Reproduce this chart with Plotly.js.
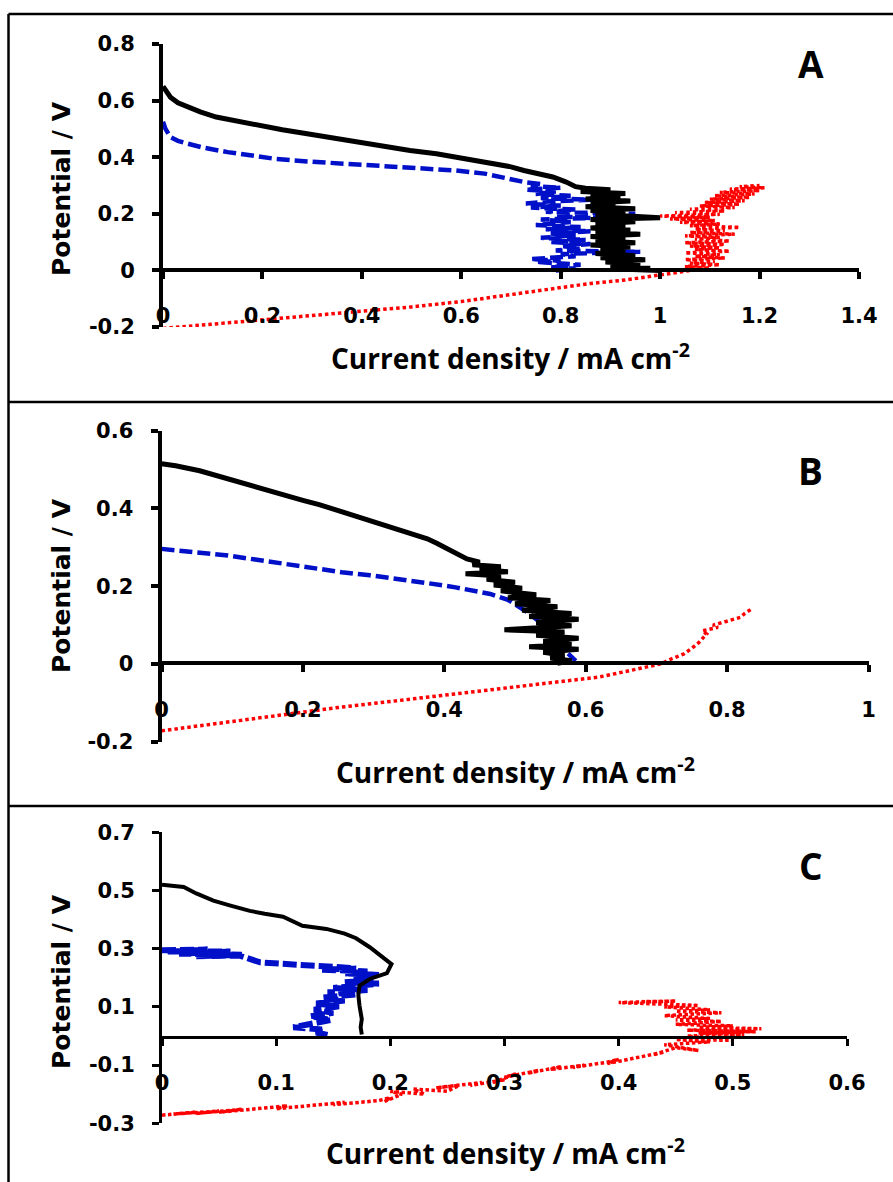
<!DOCTYPE html>
<html>
<head>
<meta charset="utf-8">
<script src="https://cdn.plot.ly/plotly-3.0.1.min.js"></script>
<style>html,body{margin:0;padding:0;background:#fff;}#chart{width:893px;height:1182px;}</style>
</head>
<body>
<div id="chart"></div>
<script>
// ---------- DATA (x: current density mA cm-2, y: potential V) ----------
const panelLabels = ['A', 'B', 'C'];

const xTicksA = [0, 0.2, 0.4, 0.6, 0.8, 1, 1.2, 1.4];
const yTicksA = [-0.2, 0, 0.2, 0.4, 0.6, 0.8];
const xTicksB = [0, 0.2, 0.4, 0.6, 0.8, 1];
const yTicksB = [-0.2, 0, 0.2, 0.4, 0.6];
const xTicksC = [0, 0.1, 0.2, 0.3, 0.4, 0.5, 0.6];
const yTicksC = [-0.3, -0.1, 0.1, 0.3, 0.5, 0.7];

const aBlack = [[0,0.65],[0.005,0.635],[0.015,0.612],[0.03,0.592],[0.05,0.577],[0.075,0.56],[0.107,0.542],[0.15,0.527],[0.187,0.512],[0.24,0.497],[0.29,0.483],[0.35,0.465],[0.405,0.448],[0.45,0.436],[0.497,0.424],[0.55,0.412],[0.589,0.4],[0.63,0.389],[0.669,0.377],[0.7,0.366],[0.726,0.353],[0.76,0.342],[0.784,0.33],[0.81,0.313],[0.83,0.296],
[0.85,0.29],[0.9,0.285],[0.84,0.279],[0.93,0.272],[0.86,0.266],[0.92,0.259],[0.85,0.252],[0.94,0.245],[0.86,0.238],[0.91,0.232],[0.85,0.225],[0.95,0.218],[0.86,0.212],[0.93,0.205],[0.87,0.198],[1.0,0.186],[0.86,0.18],[0.95,0.172],[0.87,0.165],[0.93,0.158],[0.86,0.15],[0.94,0.143],[0.87,0.136],[0.96,0.128],[0.86,0.12],[0.93,0.113],[0.87,0.106],[0.95,0.098],[0.86,0.09],[0.94,0.083],[0.88,0.076],[0.93,0.068],[0.87,0.06],[0.95,0.052],[0.88,0.045],[0.97,0.038],[0.89,0.03],[0.96,0.022],[0.9,0.015],[0.98,0.008],[0.93,0.004],[1.0,0]];

const aBlue = [[0,0.525],[0.005,0.5],[0.015,0.471],[0.03,0.458],[0.049,0.448],[0.08,0.434],[0.13,0.418],[0.175,0.405],[0.222,0.395],[0.29,0.385],[0.36,0.377],[0.43,0.37],[0.497,0.365],[0.55,0.358],[0.589,0.353],[0.647,0.342],[0.692,0.324],[0.727,0.312],
[0.76,0.305],[0.74,0.298],[0.8,0.292],[0.73,0.285],[0.79,0.279],[0.75,0.27],[0.82,0.264],[0.76,0.256],[0.86,0.25],[0.78,0.244],[0.73,0.236],[0.8,0.229],[0.74,0.222],[0.83,0.215],[0.77,0.207],[0.95,0.2],[0.79,0.192],[0.86,0.185],[0.76,0.18],[0.82,0.171],[0.75,0.16],[0.84,0.153],[0.77,0.145],[0.86,0.138],[0.78,0.13],[0.83,0.124],[0.76,0.115],[0.85,0.108],[0.78,0.1],[0.86,0.093],[0.8,0.086],[0.84,0.078],[0.79,0.07],[0.96,0.066],[0.8,0.058],[0.83,0.05],[0.74,0.04],[0.8,0.034],[0.75,0.03],[0.84,0.02],[0.78,0.012],[0.83,0.006],[0.79,0]];

const aRed = [[0,-0.205],[0.1,-0.19],[0.2,-0.176],[0.3,-0.162],[0.4,-0.147],[0.5,-0.129],[0.6,-0.11],[0.7,-0.086],[0.8,-0.06],[0.86,-0.046],[0.93,-0.034],[0.99,-0.018],[1.04,-0.006],[1.07,0.002],
[1.1,0.008],[1.05,0.014],[1.12,0.02],[1.06,0.026],[1.11,0.032],[1.05,0.038],[1.13,0.044],[1.07,0.05],[1.12,0.056],[1.05,0.062],[1.14,0.068],[1.07,0.074],[1.12,0.08],[1.06,0.086],[1.13,0.092],[1.05,0.098],[1.14,0.104],[1.07,0.11],[1.12,0.116],[1.05,0.122],[1.15,0.128],[1.06,0.134],[1.13,0.14],[1.07,0.146],[1.16,0.152],[1.06,0.158],[1.12,0.164],[1.04,0.17],[1.11,0.176],[1.02,0.182],[1.1,0.188],[1.0,0.192],[1.12,0.198],[1.03,0.204],[1.13,0.21],[1.06,0.216],[1.15,0.222],[1.08,0.228],[1.16,0.234],[1.09,0.24],[1.17,0.246],[1.1,0.252],[1.18,0.258],[1.11,0.264],[1.19,0.27],[1.12,0.276],[1.2,0.282],[1.14,0.287],[1.21,0.292],[1.16,0.296],[1.2,0.3]];

const bBlack = [[0,0.515],[0.02,0.51],[0.054,0.497],[0.08,0.483],[0.11,0.467],[0.14,0.451],[0.175,0.434],[0.2,0.421],[0.223,0.41],[0.255,0.392],[0.287,0.373],[0.31,0.361],[0.336,0.347],[0.36,0.332],[0.376,0.322],[0.39,0.31],[0.408,0.292],[0.42,0.281],[0.432,0.27],
[0.45,0.262],[0.44,0.255],[0.48,0.25],[0.45,0.243],[0.49,0.237],[0.43,0.232],[0.48,0.226],[0.46,0.218],[0.5,0.21],[0.47,0.203],[0.51,0.195],[0.48,0.188],[0.53,0.178],[0.49,0.17],[0.55,0.163],[0.5,0.155],[0.56,0.147],[0.51,0.138],[0.58,0.13],[0.52,0.122],[0.59,0.115],[0.53,0.106],[0.58,0.098],[0.485,0.088],[0.57,0.082],[0.53,0.074],[0.59,0.066],[0.54,0.058],[0.58,0.05],[0.52,0.044],[0.59,0.038],[0.54,0.03],[0.57,0.022],[0.55,0.015],[0.58,0.008],[0.56,0.002]];

const bBlue = [[0,0.296],[0.05,0.288],[0.094,0.279],[0.135,0.268],[0.175,0.257],[0.215,0.247],[0.255,0.236],[0.295,0.228],[0.336,0.219],[0.376,0.208],[0.416,0.197],[0.44,0.19],[0.465,0.18],[0.49,0.165],[0.52,0.13],[0.54,0.1],[0.555,0.07],[0.57,0.035],[0.586,0.008]];

const bRed = [[0,-0.172],[0.05,-0.16],[0.1,-0.148],[0.175,-0.129],[0.25,-0.112],[0.336,-0.094],[0.42,-0.076],[0.497,-0.06],[0.56,-0.046],[0.618,-0.034],[0.66,-0.018],[0.682,-0.009],[0.706,0],[0.72,0.012],[0.739,0.026],[0.75,0.04],[0.76,0.055],[0.771,0.077],[0.765,0.085],[0.787,0.094],[0.78,0.1],[0.8,0.11],[0.819,0.12],[0.825,0.13],[0.835,0.142]];

const cBlack = [[0,0.52],[0.01,0.517],[0.019,0.512],[0.03,0.49],[0.045,0.465],[0.06,0.448],[0.077,0.43],[0.09,0.42],[0.106,0.41],[0.123,0.379],[0.144,0.368],[0.16,0.352],[0.17,0.336],[0.182,0.305],[0.192,0.275],[0.201,0.247],[0.197,0.216],[0.182,0.196],[0.173,0.173],[0.172,0.14],[0.173,0.104],[0.175,0.058],[0.174,0.03],[0.175,0.005]];

const cBlue = [[0,0.295],[0.04,0.297],[0.005,0.29],[0.06,0.29],[0.015,0.283],[0.07,0.279],[0.03,0.274],[0.068,0.276],[0.086,0.253],[0.112,0.249],[0.13,0.242],[0.15,0.238],[0.17,0.232],[0.14,0.228],[0.18,0.222],[0.16,0.215],[0.19,0.21],[0.168,0.2],[0.185,0.192],[0.16,0.185],[0.19,0.18],[0.17,0.172],[0.15,0.165],[0.18,0.158],[0.145,0.15],[0.17,0.143],[0.14,0.132],[0.16,0.122],[0.135,0.112],[0.155,0.102],[0.133,0.09],[0.15,0.08],[0.13,0.068],[0.148,0.055],[0.135,0.045],[0.115,0.03],[0.14,0.022],[0.135,0.012],[0.145,0.004]];

const cRed = [[0,-0.272],[0.03,-0.262],[0.01,-0.268],[0.05,-0.258],[0.03,-0.266],[0.07,-0.252],[0.05,-0.262],[0.09,-0.246],[0.07,-0.256],[0.11,-0.24],[0.1,-0.25],[0.14,-0.236],[0.12,-0.244],[0.16,-0.228],[0.15,-0.236],[0.19,-0.222],[0.2,-0.212],[0.195,-0.225],[0.21,-0.2],[0.2,-0.19],[0.23,-0.2],[0.22,-0.182],[0.25,-0.19],[0.26,-0.17],[0.24,-0.178],[0.28,-0.16],[0.27,-0.17],[0.3,-0.15],[0.29,-0.16],[0.31,-0.13],[0.3,-0.142],[0.33,-0.118],[0.32,-0.128],[0.35,-0.105],[0.34,-0.115],[0.37,-0.1],[0.36,-0.108],[0.39,-0.09],[0.4,-0.08],[0.39,-0.095],[0.42,-0.07],[0.41,-0.08],[0.44,-0.055],[0.43,-0.065],[0.45,-0.04],[0.47,-0.05],[0.44,-0.03],[0.48,-0.02],[0.45,-0.012],[0.5,-0.015],[0.46,0],[0.51,0.005],[0.47,0.01],[0.52,0.015],[0.46,0.02],[0.525,0.025],[0.47,0.03],[0.5,0.035],[0.45,0.04],[0.49,0.05],[0.45,0.055],[0.48,0.06],[0.44,0.07],[0.49,0.08],[0.45,0.085],[0.48,0.09],[0.44,0.1],[0.47,0.105],[0.4,0.115],[0.45,0.12],[0.42,0.118]];

const xTitle = 'Current density / mA cm<sup>-2</sup>';
const yTitle = 'Potential / V';

// ---------- LAYOUT HELPERS ----------
const W = 893, H = 1182;
const px = v => v / W;
const py = v => 1 - v / H;

const BLACK = '#000000', BLUE = '#0010C8', RED = '#FF0000';

function line(pts, xa, ya, color, width, dash) {
  return {
    x: pts.map(p => p[0]), y: pts.map(p => p[1]),
    xaxis: xa, yaxis: ya, type: 'scatter', mode: 'lines',
    line: {color: color, width: width, dash: dash},
    hoverinfo: 'skip'
  };
}

const data = [
  line(aBlue, 'x', 'y', BLUE, 4.5, '13px,5px'),
  line(aBlack, 'x', 'y', BLACK, 5, 'solid'),
  line(aRed, 'x', 'y', RED, 3.5, '3.5px,3px'),
  line(bBlue, 'x2', 'y2', BLUE, 4.5, '13px,5px'),
  line(bBlack, 'x2', 'y2', BLACK, 5, 'solid'),
  line(bRed, 'x2', 'y2', RED, 3.5, '3.5px,3px'),
  line(cBlue, 'x3', 'y3', BLUE, 6, '14px,4px'),
  line(cBlack, 'x3', 'y3', BLACK, 4, 'solid'),
  line(cRed, 'x3', 'y3', RED, 3.5, '3.5px,2.5px')
];

const tickFont = {family: 'DejaVu Sans', size: 21, color: BLACK, weight: 'bold'};

function xAxis(domainPx, range, ticks, zeroPx, lw) {
  return {
    domain: [px(domainPx[0]), px(domainPx[1])], range: range, anchor: 'free', position: py(zeroPx),
    tickmode: 'array', tickvals: ticks, ticktext: ticks.map(String),
    showline: true, linewidth: lw, linecolor: BLACK, ticks: 'outside', ticklen: 7, tickwidth: lw, tickcolor: BLACK,
    showgrid: false, zeroline: false, tickfont: tickFont, ticklabelstandoff: 19, fixedrange: true
  };
}
function yAxis(domainPx, range, ticks, xa, lw) {
  return {
    domain: [py(domainPx[1]), py(domainPx[0])], range: range, anchor: xa, side: 'left',
    tickmode: 'array', tickvals: ticks, ticktext: ticks.map(String),
    showline: true, linewidth: lw, linecolor: BLACK, ticks: 'outside', ticklen: 7, tickwidth: lw, tickcolor: BLACK,
    showgrid: false, zeroline: false, tickfont: tickFont, ticklabelstandoff: 13, fixedrange: true
  };
}

function ann(text, xPx, yPx, size, family, angle) {
  return {text: '<b>' + text + '</b>', xref: 'paper', yref: 'paper', x: px(xPx), y: py(yPx),
    xanchor: 'center', yanchor: 'middle', showarrow: false, textangle: angle || 0,
    font: {family: family, size: size, color: BLACK}};
}

const layout = {
  width: W, height: H, margin: {l: 0, r: 0, t: 0, b: 0},
  paper_bgcolor: '#ffffff', plot_bgcolor: 'rgba(0,0,0,0)', showlegend: false,
  xaxis: xAxis([163, 859], [0, 1.4], xTicksA, 270, 4),
  yaxis: yAxis([44, 327], [-0.2, 0.8], yTicksA, 'x', 4),
  xaxis2: xAxis([161.5, 868.5], [0, 1], xTicksB, 663.3, 4),
  yaxis2: yAxis([430.7, 741.7], [-0.2, 0.6], yTicksB, 'x2', 4),
  xaxis3: xAxis([162, 847], [0, 0.6], xTicksC, 1037, 3),
  yaxis3: yAxis([832.3, 1123.3], [-0.3, 0.7], yTicksC, 'x3', 3),
  annotations: [
    ann(yTitle, 61, 188, 25, 'DejaVu Sans', -90),
    ann(yTitle, 61, 585, 25, 'DejaVu Sans', -90),
    ann(yTitle, 61, 981, 25, 'DejaVu Sans', -90),
    ann(xTitle, 510, 357, 28, 'Open Sans'),
    ann(xTitle, 515, 770, 28, 'Open Sans'),
    ann(xTitle, 505, 1151, 28, 'Open Sans'),
    ann(panelLabels[0], 811, 64, 37, 'Open Sans'),
    ann(panelLabels[1], 810, 471, 37, 'Open Sans'),
    ann(panelLabels[2], 811, 865, 37, 'Open Sans')
  ],
  shapes: [
    {type: 'line', xref: 'paper', yref: 'paper', x0: px(8.5), x1: 1.02, y0: py(14), y1: py(14), line: {color: BLACK, width: 2.5}},
    {type: 'line', xref: 'paper', yref: 'paper', x0: px(8.5), x1: 1.02, y0: py(402), y1: py(402), line: {color: BLACK, width: 2.5}},
    {type: 'line', xref: 'paper', yref: 'paper', x0: px(8.5), x1: 1.02, y0: py(806), y1: py(806), line: {color: BLACK, width: 2.5}},
    {type: 'line', xref: 'paper', yref: 'paper', x0: px(8.5), x1: px(8.5), y0: py(14), y1: -0.02, line: {color: BLACK, width: 2.5}}
  ]
};

Plotly.newPlot('chart', data, layout, {staticPlot: true, displayModeBar: false});
</script>
</body>
</html>
